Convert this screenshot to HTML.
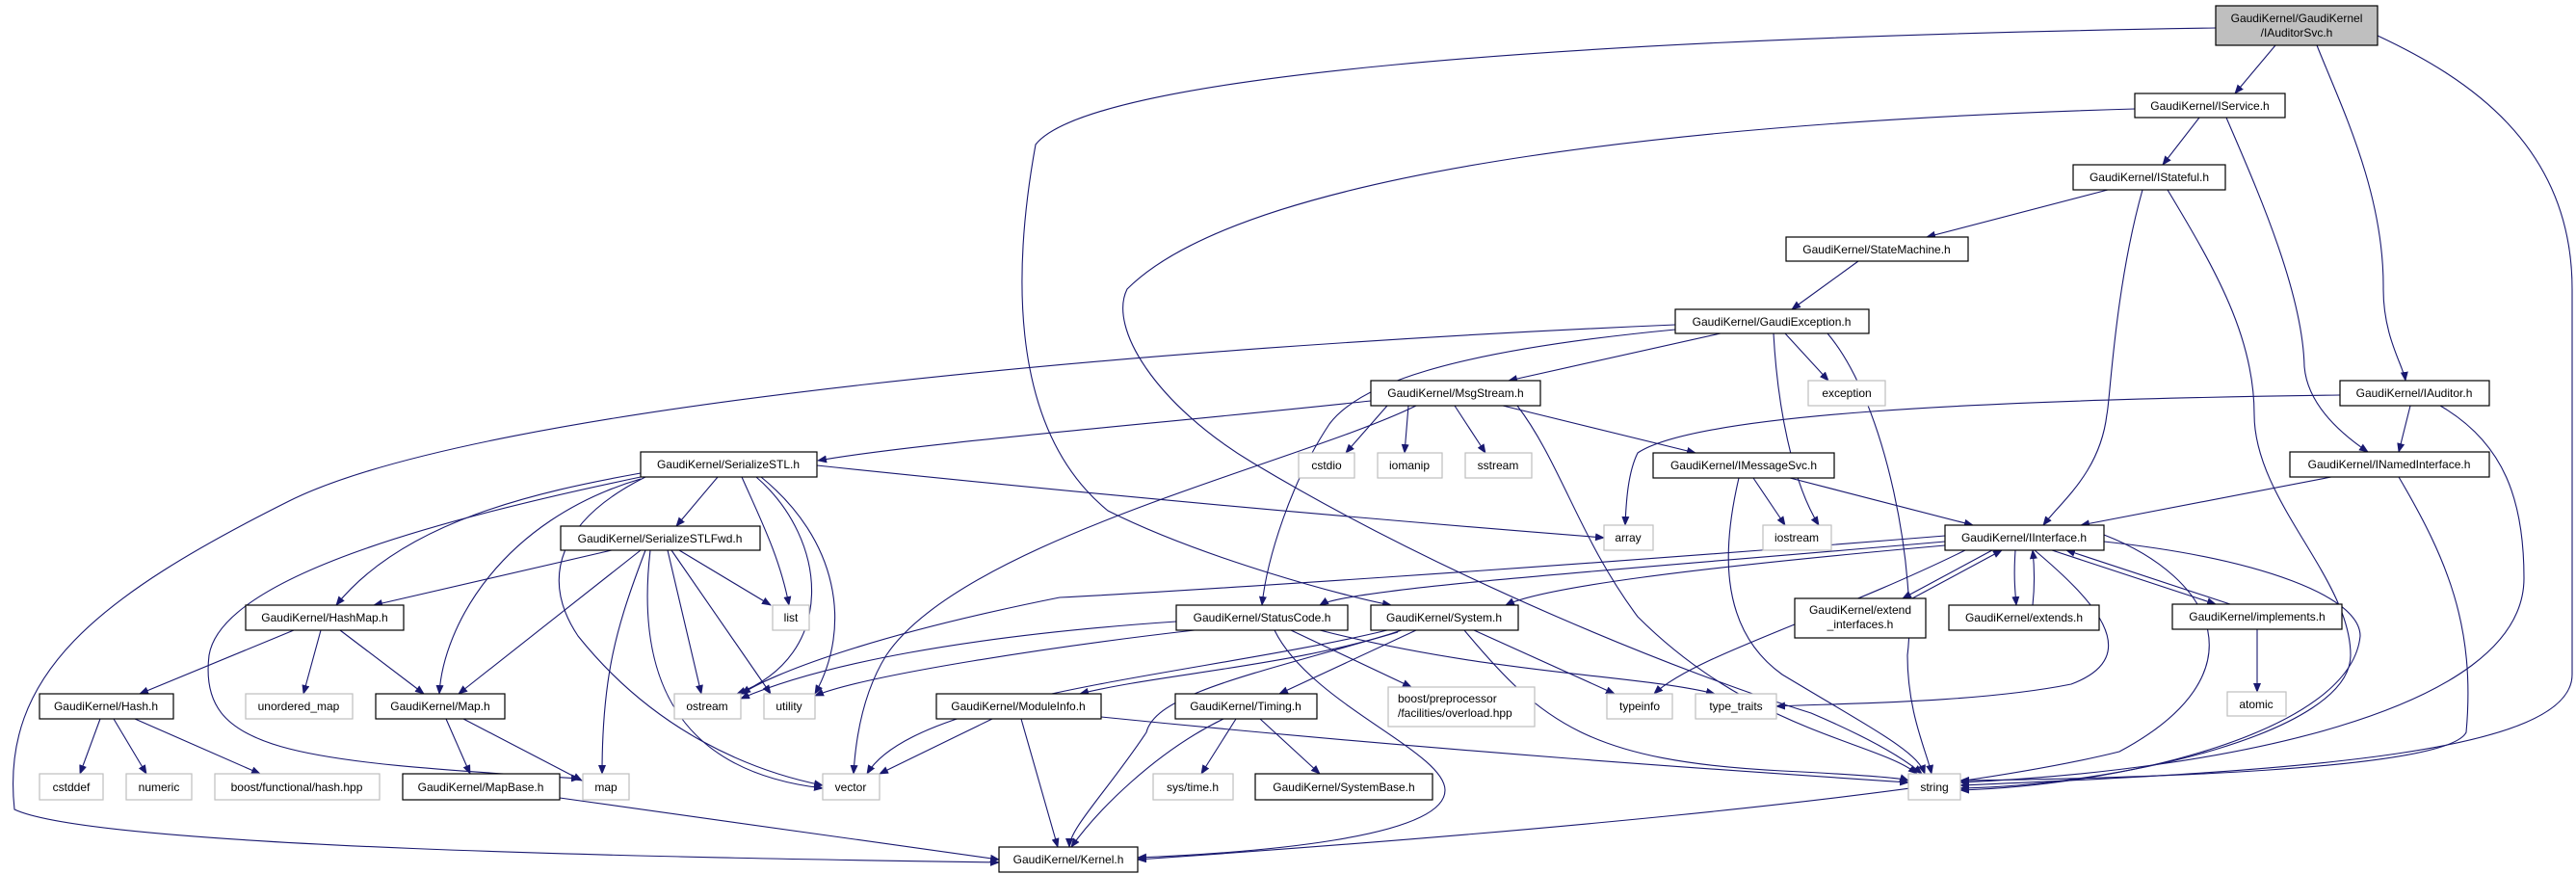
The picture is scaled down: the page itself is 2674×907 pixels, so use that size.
<!DOCTYPE html>
<html><head><meta charset="utf-8"><style>
html,body{margin:0;padding:0;background:#fff;}
svg{display:block;}
text{font-family:"Liberation Sans",sans-serif;font-size:12px;fill:#000;}
.n{fill:#fff;stroke:#000;stroke-width:1.2;}
.g{fill:#fff;stroke:#bfbfbf;stroke-width:1.2;}
.e{fill:none;stroke:#191970;stroke-width:1.1;marker-end:url(#a);}
</style></head><body>
<svg width="2674" height="907" viewBox="0 0 2674 907" xmlns="http://www.w3.org/2000/svg">
<defs><marker id="a" markerWidth="10" markerHeight="8" refX="9" refY="4" orient="auto" markerUnits="userSpaceOnUse"><path d="M0,0 L10,4 L0,8 z" fill="#191970"/></marker></defs>
<g>
<path class="e" d="M2362,47 L2320,97"/>
<path class="e" d="M2405,47 C2430,110 2475,200 2474,300 C2474,350 2495,380 2497,395"/>
<path class="e" d="M2300,29 C1600,40 1130,80 1075,150 C1055,260 1040,440 1150,530 C1250,580 1400,620 1444,628"/>
<path class="e" d="M2468,37 C2560,80 2670,150 2670,300 L2670,700 C2670,780 2400,800 2035,815"/>
<path class="e" d="M2283,122 L2245,171"/>
<path class="e" d="M2311,122 C2340,190 2390,300 2392,380 C2395,420 2430,450 2458,469"/>
<path class="e" d="M2216,113 C1800,125 1300,170 1170,300 C1150,340 1200,420 1300,480 C1500,600 1750,700 1880,740 C1950,770 1980,790 1995,803"/>
<path class="e" d="M2188,197 L2000,246"/>
<path class="e" d="M2224,197 C2195,300 2190,420 2187,430 C2180,490 2140,520 2121,545"/>
<path class="e" d="M2250,197 C2300,280 2340,350 2340,430 C2340,520 2440,600 2440,680 C2440,760 2200,815 2035,818"/>
<path class="e" d="M1929,271 L1860,321"/>
<path class="e" d="M1786,346 L1566,395"/>
<path class="e" d="M1853,346 L1898,395"/>
<path class="e" d="M1739,342 C1500,365 1410,400 1380,440 C1340,500 1315,580 1310,628"/>
<path class="e" d="M1841,346 C1845,420 1860,500 1888,545"/>
<path class="e" d="M1897,346 C1960,420 1990,600 1980,680 C1980,740 2000,780 2005,803"/>
<path class="e" d="M1739,337 C1200,360 500,420 300,520 C100,620 0,700 15,840 C100,880 700,890 1037,895"/>
<path class="e" d="M1423,416 C1200,440 950,460 849,478"/>
<path class="e" d="M1440,421 L1397,470"/>
<path class="e" d="M1462,421 L1458,470"/>
<path class="e" d="M1510,421 L1542,470"/>
<path class="e" d="M1560,421 L1760,470"/>
<path class="e" d="M1470,421 C1350,480 1000,560 920,680 C895,720 888,770 886,803"/>
<path class="e" d="M1575,421 C1620,480 1640,560 1700,640 C1820,760 1950,770 1990,803"/>
<path class="e" d="M2502,421 L2490,469"/>
<path class="e" d="M2533,421 C2600,460 2620,520 2620,600 C2620,740 2300,800 2035,812"/>
<path class="e" d="M2429,410 C2050,415 1760,430 1700,470 C1690,490 1688,520 1687,545"/>
<path class="e" d="M2420,495 L2160,545"/>
<path class="e" d="M2490,495 C2540,580 2570,650 2560,760 C2540,800 2200,808 2035,810"/>
<path class="e" d="M1820,496 L1853,545"/>
<path class="e" d="M1858,496 L2048,545"/>
<path class="e" d="M1805,496 C1790,560 1780,650 1850,700 C1950,760 1990,780 1998,803"/>
<path class="e" d="M745,495 L702,546"/>
<path class="e" d="M665,491 C560,510 420,540 349,628"/>
<path class="e" d="M665,497 C520,540 460,650 456,720"/>
<path class="e" d="M665,495 C450,540 230,600 217,680 C205,780 300,790 602,808"/>
<path class="e" d="M770,495 C790,540 810,580 819,628"/>
<path class="e" d="M785,495 C860,560 870,680 765,720"/>
<path class="e" d="M790,495 C870,560 885,650 846,720"/>
<path class="e" d="M670,495 C580,540 560,600 600,660 C680,760 780,800 854,815"/>
<path class="e" d="M848,483 C1200,520 1500,545 1665,558"/>
<path class="e" d="M635,571 L388,628"/>
<path class="e" d="M665,571 L476,720"/>
<path class="e" d="M705,571 L800,628"/>
<path class="e" d="M670,571 C640,650 625,700 625,803"/>
<path class="e" d="M693,571 L728,720"/>
<path class="e" d="M697,571 L800,720"/>
<path class="e" d="M675,571 C660,700 700,800 854,818"/>
<path class="e" d="M305,654 L145,720"/>
<path class="e" d="M333,654 L315,720"/>
<path class="e" d="M353,654 L440,720"/>
<path class="e" d="M104,746 L83,803"/>
<path class="e" d="M118,746 L152,803"/>
<path class="e" d="M140,746 L270,803"/>
<path class="e" d="M463,746 L488,803"/>
<path class="e" d="M481,746 L604,810"/>
<path class="e" d="M581,828 L1037,892"/>
<path class="e" d="M2019,562 C1700,590 1400,610 1370,628"/>
<path class="e" d="M2019,566 C1750,590 1600,610 1563,628"/>
<path class="e" d="M2068,571 L1975,621"/>
<path class="e" d="M1985,621 L2078,571"/>
<path class="e" d="M2092,571 C2090,600 2092,615 2093,628"/>
<path class="e" d="M2110,628 C2112,610 2112,590 2110,571"/>
<path class="e" d="M2130,571 L2300,627"/>
<path class="e" d="M2315,627 L2145,571"/>
<path class="e" d="M2019,556 C1600,590 1200,615 1100,620 C900,660 800,700 770,720"/>
<path class="e" d="M2040,571 C1900,640 1760,680 1717,720"/>
<path class="e" d="M2112,571 C2170,620 2230,680 2150,710 C2050,730 1900,730 1844,733"/>
<path class="e" d="M2184,555 C2300,600 2350,700 2200,780 C2000,830 1500,870 1181,892"/>
<path class="e" d="M2184,562 C2350,580 2450,620 2450,660 C2440,760 2200,815 2035,820"/>
<path class="e" d="M1221,645 C1000,660 850,690 769,725"/>
<path class="e" d="M1340,654 L1465,713"/>
<path class="e" d="M1370,654 C1550,700 1700,700 1780,720"/>
<path class="e" d="M1323,654 C1360,730 1500,780 1500,820 C1500,870 1300,885 1181,890"/>
<path class="e" d="M1240,654 C1100,670 900,700 846,722"/>
<path class="e" d="M1455,654 C1350,690 1200,700 1121,720"/>
<path class="e" d="M1470,654 L1328,720"/>
<path class="e" d="M1530,654 L1676,720"/>
<path class="e" d="M1520,654 C1600,750 1650,790 1850,800 C1950,805 1975,808 1981,810"/>
<path class="e" d="M1440,654 C1250,700 950,720 900,803"/>
<path class="e" d="M1451,656 C1300,700 1200,720 1190,760 C1150,820 1110,860 1110,879"/>
<path class="e" d="M1030,746 L913,803"/>
<path class="e" d="M1060,746 L1098,879"/>
<path class="e" d="M1143,744 C1500,780 1800,800 1981,812"/>
<path class="e" d="M1283,746 L1247,803"/>
<path class="e" d="M1308,746 L1370,803"/>
<path class="e" d="M1270,746 C1200,780 1140,840 1112,879"/>
<path class="e" d="M2343,653 L2343,718"/>
</g>
<g>
<rect x="2300" y="6" width="168" height="41" fill="#bfbfbf" stroke="#000" stroke-width="1.2"/>
<text x="2384" y="23" text-anchor="middle">GaudiKernel/GaudiKernel</text>
<text x="2384" y="38" text-anchor="middle">/IAuditorSvc.h</text>
<rect class="n" x="2216" y="97" width="156" height="25"/><text x="2294" y="114" text-anchor="middle">GaudiKernel/IService.h</text>
<rect class="n" x="2152" y="171" width="158" height="26"/><text x="2231" y="188" text-anchor="middle">GaudiKernel/IStateful.h</text>
<rect class="n" x="1854" y="246" width="189" height="25"/><text x="1948" y="263" text-anchor="middle">GaudiKernel/StateMachine.h</text>
<rect class="n" x="1739" y="321" width="201" height="25"/><text x="1839" y="338" text-anchor="middle">GaudiKernel/GaudiException.h</text>
<rect class="n" x="1423" y="395" width="176" height="26"/><text x="1511" y="412" text-anchor="middle">GaudiKernel/MsgStream.h</text>
<rect class="g" x="1877" y="395" width="80" height="26"/><text x="1917" y="412" text-anchor="middle">exception</text>
<rect class="n" x="2429" y="395" width="155" height="26"/><text x="2506" y="412" text-anchor="middle">GaudiKernel/IAuditor.h</text>
<rect class="n" x="2377" y="469" width="207" height="26"/><text x="2480" y="486" text-anchor="middle">GaudiKernel/INamedInterface.h</text>
<rect class="n" x="665" y="469" width="183" height="26"/><text x="756" y="486" text-anchor="middle">GaudiKernel/SerializeSTL.h</text>
<rect class="g" x="1348" y="470" width="58" height="26"/><text x="1377" y="487" text-anchor="middle">cstdio</text>
<rect class="g" x="1430" y="470" width="67" height="26"/><text x="1463" y="487" text-anchor="middle">iomanip</text>
<rect class="g" x="1521" y="470" width="69" height="26"/><text x="1555" y="487" text-anchor="middle">sstream</text>
<rect class="n" x="1716" y="470" width="188" height="26"/><text x="1810" y="487" text-anchor="middle">GaudiKernel/IMessageSvc.h</text>
<rect class="n" x="582" y="546" width="207" height="25"/><text x="685" y="563" text-anchor="middle">GaudiKernel/SerializeSTLFwd.h</text>
<rect class="g" x="1665" y="545" width="51" height="26"/><text x="1690" y="562" text-anchor="middle">array</text>
<rect class="g" x="1830" y="545" width="71" height="26"/><text x="1865" y="562" text-anchor="middle">iostream</text>
<rect class="n" x="2019" y="545" width="165" height="26"/><text x="2101" y="562" text-anchor="middle">GaudiKernel/IInterface.h</text>
<rect class="n" x="255" y="628" width="164" height="26"/><text x="337" y="645" text-anchor="middle">GaudiKernel/HashMap.h</text>
<rect class="g" x="802" y="628" width="38" height="26"/><text x="821" y="645" text-anchor="middle">list</text>
<rect class="n" x="1221" y="628" width="178" height="26"/><text x="1310" y="645" text-anchor="middle">GaudiKernel/StatusCode.h</text>
<rect class="n" x="1423" y="628" width="153" height="26"/><text x="1499" y="645" text-anchor="middle">GaudiKernel/System.h</text>
<rect class="n" x="1863" y="621" width="136" height="41"/><text x="1931" y="637" text-anchor="middle">GaudiKernel/extend</text><text x="1931" y="652" text-anchor="middle">_interfaces.h</text>
<rect class="n" x="2023" y="628" width="156" height="26"/><text x="2101" y="645" text-anchor="middle">GaudiKernel/extends.h</text>
<rect class="n" x="2255" y="627" width="176" height="26"/><text x="2343" y="644" text-anchor="middle">GaudiKernel/implements.h</text>
<rect class="n" x="41" y="720" width="139" height="26"/><text x="110" y="737" text-anchor="middle">GaudiKernel/Hash.h</text>
<rect class="g" x="255" y="720" width="111" height="26"/><text x="310" y="737" text-anchor="middle">unordered_map</text>
<rect class="n" x="390" y="720" width="134" height="26"/><text x="457" y="737" text-anchor="middle">GaudiKernel/Map.h</text>
<rect class="g" x="700" y="720" width="69" height="26"/><text x="734" y="737" text-anchor="middle">ostream</text>
<rect class="g" x="793" y="720" width="53" height="26"/><text x="819" y="737" text-anchor="middle">utility</text>
<rect class="n" x="972" y="720" width="171" height="26"/><text x="1057" y="737" text-anchor="middle">GaudiKernel/ModuleInfo.h</text>
<rect class="n" x="1220" y="720" width="147" height="26"/><text x="1293" y="737" text-anchor="middle">GaudiKernel/Timing.h</text>
<rect class="g" x="1441" y="713" width="152" height="41"/><text x="1451" y="729">boost/preprocessor</text><text x="1451" y="744">/facilities/overload.hpp</text>
<rect class="g" x="1668" y="720" width="68" height="26"/><text x="1702" y="737" text-anchor="middle">typeinfo</text>
<rect class="g" x="1760" y="720" width="84" height="26"/><text x="1802" y="737" text-anchor="middle">type_traits</text>
<rect class="g" x="2312" y="718" width="61" height="25"/><text x="2342" y="735" text-anchor="middle">atomic</text>
<rect class="g" x="41" y="803" width="66" height="27"/><text x="74" y="821" text-anchor="middle">cstddef</text>
<rect class="g" x="131" y="803" width="68" height="27"/><text x="165" y="821" text-anchor="middle">numeric</text>
<rect class="g" x="223" y="803" width="171" height="27"/><text x="308" y="821" text-anchor="middle">boost/functional/hash.hpp</text>
<rect class="n" x="418" y="803" width="163" height="27"/><text x="499" y="821" text-anchor="middle">GaudiKernel/MapBase.h</text>
<rect class="g" x="605" y="803" width="48" height="27"/><text x="629" y="821" text-anchor="middle">map</text>
<rect class="g" x="854" y="803" width="59" height="27"/><text x="883" y="821" text-anchor="middle">vector</text>
<rect class="g" x="1197" y="803" width="83" height="27"/><text x="1238" y="821" text-anchor="middle">sys/time.h</text>
<rect class="n" x="1303" y="803" width="184" height="27"/><text x="1395" y="821" text-anchor="middle">GaudiKernel/SystemBase.h</text>
<rect class="g" x="1981" y="803" width="54" height="27"/><text x="2008" y="821" text-anchor="middle">string</text>
<rect class="n" x="1037" y="879" width="144" height="26"/><text x="1109" y="896" text-anchor="middle">GaudiKernel/Kernel.h</text>
</g>
</svg>
</body></html>
